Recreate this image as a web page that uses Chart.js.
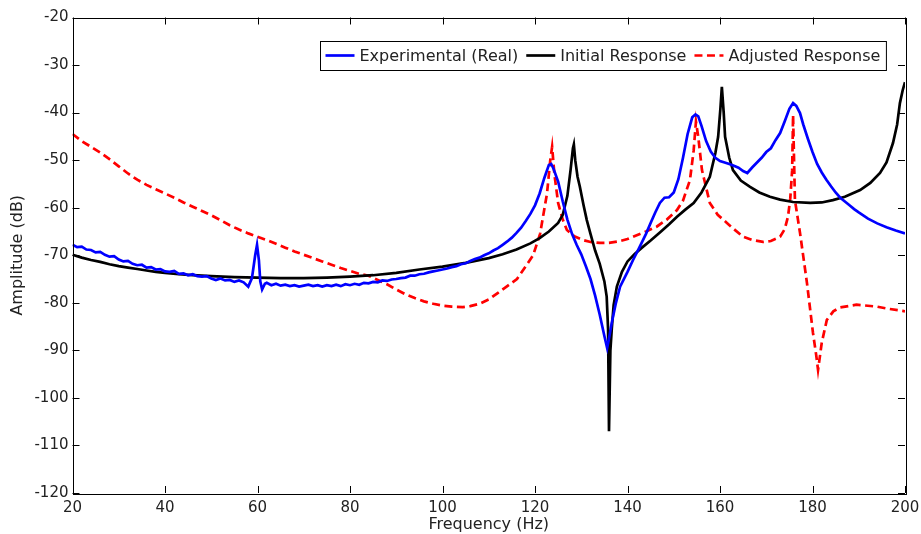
<!DOCTYPE html>
<html>
<head>
<meta charset="utf-8">
<script src="https://cdn.jsdelivr.net/npm/chart.js@4.4.1/dist/chart.umd.min.js"></script>
<style>
  html, body { margin: 0; padding: 0; background: #fff; }
  #wrap { width: 921px; height: 534px; }
</style>
</head>
<body>
<div id="wrap"><canvas id="c" width="921" height="534"></canvas></div>
<script>
// Experimental (Real) - measured FRF, blue
const expFreq = [20,21,22,23,24,25,26,27,28,29,30,31,32,33,34,35,36,37,38,39,40,41,42,43,44,45,46,47,48,49,50,51,52,53,54,55,56,57,58,58.8,59.5,59.9,60.3,60.6,61,61.6,62,63,64,65,66,67,68,69,70,71,72,73,74,75,76,77,78,79,80,81,82,83,84,85,86,87,88,89,90,91,92,93,94,95,96,97,98,99,100,101,102,103,104,105,106,107,108,109,110,111,112,113,114,115,116,117,118,119,120,121,122,123,123.5,124,125,126,127,128,129,130,131,132,133,134,135,135.6,136,136.6,137.5,138.4,140,141.2,142.5,144,145,146,147,148,149,150,151,152,153,154,154.7,155.3,156,157,158,159,160,161,162,163,164,165,165.9,167,168,169,170,171,172,173,174,175,175.8,176.5,177.3,178,179,180,181,182,183,184,185,186,187,188,189,190,192,194,196,198,200];
const expAmp = [-67.8,-68.3,-68.2,-68.8,-68.9,-69.4,-69.3,-69.9,-70.3,-70.2,-70.9,-71.3,-71.2,-71.8,-72.1,-72.0,-72.6,-72.5,-73.0,-72.9,-73.4,-73.5,-73.3,-73.9,-73.8,-74.2,-74.0,-74.4,-74.5,-74.4,-74.9,-75.2,-74.9,-75.3,-75.2,-75.6,-75.3,-75.7,-76.6,-74.8,-70.0,-67.8,-71.0,-75.5,-77.2,-76.0,-75.8,-76.3,-76.0,-76.4,-76.2,-76.5,-76.3,-76.6,-76.4,-76.2,-76.5,-76.3,-76.6,-76.3,-76.5,-76.2,-76.5,-76.1,-76.3,-76.0,-76.2,-75.8,-75.9,-75.6,-75.7,-75.3,-75.4,-75.1,-75.0,-74.8,-74.7,-74.3,-74.3,-74.0,-73.9,-73.6,-73.4,-73.2,-73.0,-72.8,-72.5,-72.3,-71.9,-71.7,-71.2,-70.8,-70.5,-70.0,-69.6,-69.0,-68.5,-67.8,-67.1,-66.3,-65.3,-64.2,-62.8,-61.3,-59.5,-57.0,-53.8,-51.0,-50.8,-51.8,-54.5,-58.7,-62.5,-65.5,-67.8,-69.8,-72.3,-75.0,-78.5,-82.5,-87.0,-89.5,-87.5,-84.2,-80.0,-76.6,-73.5,-71.0,-68.5,-65.5,-63.2,-61.0,-59.0,-57.9,-57.8,-56.8,-54.0,-49.5,-44.5,-41.0,-40.4,-40.8,-42.8,-46.0,-48.2,-49.5,-50.2,-50.5,-50.8,-51.2,-51.6,-52.3,-52.7,-51.5,-50.5,-49.5,-48.3,-47.5,-45.8,-44.3,-41.8,-39.2,-38.0,-38.6,-40.1,-42.5,-45.5,-48.3,-50.8,-52.6,-54.1,-55.5,-56.8,-57.9,-58.7,-59.5,-60.3,-61.0,-62.3,-63.3,-64.1,-64.8,-65.4];

// Initial Response - black
const initFreq = [20,22,24,26,28,30,32,34,36,38,40,43,46,50,55,60,65,70,75,80,85,90,95,100,105,110,113,116,119,121,123,125,126,127,127.7,128.2,128.4,128.7,129.2,129.7,130.5,131.2,132,133,134,135,135.5,135.8,136,136.3,136.6,137,137.7,138.8,140,141.5,143,145,147,149,150.7,152.5,154.3,156,157.8,159,159.6,160.1,160.4,160.8,161.1,162,162.8,164.5,166.5,168.5,170.8,173,175.8,179.5,182,184.4,187,190.3,192.5,194.6,196,197.4,198.3,198.9,199.5,200];
const initAmp = [-69.9,-70.5,-71.0,-71.4,-71.9,-72.3,-72.6,-72.9,-73.2,-73.5,-73.7,-74.0,-74.2,-74.4,-74.6,-74.7,-74.8,-74.8,-74.7,-74.5,-74.2,-73.7,-73.0,-72.4,-71.6,-70.6,-69.8,-68.8,-67.5,-66.4,-65.0,-63.2,-61.5,-57.5,-52.0,-47.5,-46.7,-50.0,-53.5,-55.6,-59.5,-62.6,-65.5,-69.0,-71.8,-75.5,-78.7,-85.5,-107.0,-90.0,-85.5,-80.5,-76.6,-73.5,-71.3,-69.8,-68.5,-66.9,-65.2,-63.5,-61.9,-60.4,-59.0,-56.8,-53.5,-48.5,-45.1,-39.0,-34.6,-40.0,-45.1,-49.5,-52.1,-54.3,-55.6,-56.8,-57.7,-58.3,-58.8,-59.0,-58.9,-58.4,-57.7,-56.3,-54.8,-52.7,-50.5,-46.4,-42.5,-38.0,-35.3,-33.6];

// Adjusted Response - red dashed
const adjFreq = [20,22,24,26,28,30,32,34,36,38,40,42,44,46,48,50,52,54,56,58,60,62,64,66,68,70,72,74,76,78,80,82,84,86,88,90,92,94,96,98,100,102,104.4,106,108,110,112,114,116.1,118,119.6,121.1,122.6,123.3,123.7,124.2,125,126,126.9,128.5,130.4,132,134,136,138,140,142,144,146.3,148.5,150.7,152,153.5,154.3,154.8,155.3,156.1,157.8,159.5,161.5,163,165,167,169.3,171,173,174,174.7,175.2,175.6,175.8,176.2,177.3,178.8,180.1,180.8,181.2,181.5,182,183.1,184.5,185.9,189.5,193.9,196,199.5,200];
const adjAmp = [-44.5,-46.0,-47.2,-48.4,-49.8,-51.3,-52.8,-54.1,-55.2,-56.1,-57.0,-57.9,-58.9,-59.8,-60.7,-61.6,-62.6,-63.7,-64.6,-65.4,-66.1,-66.8,-67.6,-68.4,-69.2,-69.9,-70.6,-71.3,-72.0,-72.7,-73.3,-73.9,-74.3,-75.2,-76.1,-77.2,-78.2,-79.0,-79.7,-80.2,-80.6,-80.8,-80.9,-80.7,-80.2,-79.3,-77.9,-76.5,-75.0,-72.3,-70.0,-65.5,-57.0,-50.0,-47.2,-53.0,-59.0,-62.5,-64.7,-66.0,-66.8,-67.2,-67.4,-67.4,-67.1,-66.6,-65.8,-65.0,-64.0,-62.5,-60.5,-58.5,-54.2,-48.0,-41.9,-45.1,-52.1,-59.0,-61.5,-63.2,-64.5,-66.1,-66.8,-67.2,-67.0,-66.1,-64.5,-61.9,-58.0,-52.1,-40.5,-58.4,-65.3,-75.8,-86.3,-91.0,-94.1,-92.0,-88.4,-83.6,-81.8,-81.0,-80.4,-80.8,-81.2,-81.7,-81.8];

const xTicks = [20, 40, 60, 80, 100, 120, 140, 160, 180, 200];
const yTicks = [-120, -110, -100, -90, -80, -70, -60, -50, -40, -30, -20];

const FONT = "'DejaVu Sans', sans-serif";
const TEXT = "#222";

const toPoints = (xs, ys) => xs.map((x, i) => ({ x: x, y: ys[i] }));

// box round the plot, with MATLAB style inward ticks on all four sides
const boxTicks = {
  id: "boxTicks",
  afterDatasetsDraw(chart) {
    const { ctx, chartArea: a, scales } = chart;
    const len = 7;
    ctx.save();
    ctx.strokeStyle = "#000";
    ctx.lineWidth = 1;
    ctx.beginPath();
    xTicks.forEach((v) => {
      const px = Math.round(scales.x.getPixelForValue(v)) + 0.5;
      ctx.moveTo(px, a.bottom); ctx.lineTo(px, a.bottom - len);
      ctx.moveTo(px, a.top); ctx.lineTo(px, a.top + len);
    });
    yTicks.forEach((v) => {
      const py = Math.round(scales.y.getPixelForValue(v)) + 0.5;
      ctx.moveTo(a.left, py); ctx.lineTo(a.left + len, py);
      ctx.moveTo(a.right, py); ctx.lineTo(a.right - len, py);
    });
    ctx.stroke();
    ctx.strokeRect(Math.round(a.left) + 0.5, Math.round(a.top) + 0.5,
      Math.round(a.right - a.left), Math.round(a.bottom - a.top));
    ctx.restore();
  },
};

// legend box inside the plot, top right
const boxLegend = {
  id: "boxLegend",
  afterDraw(chart) {
    const { ctx, chartArea: a } = chart;
    const sets = chart.data.datasets;
    const sample = 29, gapIn = 5, gapOut = 8, padL = 5, padR = 6;
    ctx.save();
    ctx.font = "16px " + FONT;
    const widths = sets.map((d) => ctx.measureText(d.label).width);
    let w = padL + padR + gapOut * (sets.length - 1);
    widths.forEach((tw) => { w += sample + gapIn + tw; });
    const h = 29;
    const right = a.right - 19;
    const top = a.top + 23.5;
    const left = Math.round(right - w) + 0.5;
    ctx.fillStyle = "#fff";
    ctx.fillRect(left, Math.round(top) + 0.5, w, h);
    ctx.strokeStyle = "#000";
    ctx.lineWidth = 1;
    ctx.strokeRect(left, Math.round(top) + 0.5, w, h);
    const cy = top + h / 2;
    let x = left + padL;
    sets.forEach((d, i) => {
      ctx.beginPath();
      ctx.strokeStyle = d.borderColor;
      ctx.lineWidth = d.borderWidth;
      ctx.setLineDash(d.borderDash || []);
      ctx.moveTo(x, cy); ctx.lineTo(x + sample, cy);
      ctx.stroke();
      ctx.setLineDash([]);
      x += sample + gapIn;
      ctx.fillStyle = TEXT;
      ctx.textBaseline = "middle";
      ctx.fillText(d.label, x, cy + 1);
      x += widths[i] + gapOut;
    });
    ctx.restore();
  },
};

new Chart(document.getElementById("c"), {
  type: "line",
  data: {
    datasets: [
      {
        label: "Experimental (Real)",
        data: toPoints(expFreq, expAmp),
        borderColor: "#0000ff",
        borderWidth: 2.7,
      },
      {
        label: "Initial Response",
        data: toPoints(initFreq, initAmp),
        borderColor: "#000000",
        borderWidth: 2.7,
      },
      {
        label: "Adjusted Response",
        data: toPoints(adjFreq, adjAmp),
        borderColor: "#ff0000",
        borderWidth: 2.7,
        borderDash: [8, 4.5],
      },
    ],
  },
  options: {
    responsive: false,
    animation: false,
    events: [],
    elements: { point: { radius: 0 }, line: { tension: 0, fill: false } },
    layout: { padding: { top: 17.5, right: 16, left: 0, bottom: 0 } },
    plugins: { legend: { display: false }, tooltip: { enabled: false } },
    scales: {
      x: {
        type: "linear",
        min: 20,
        max: 200,
        afterBuildTicks: (s) => { s.ticks = xTicks.map((v) => ({ value: v })); },
        afterFit: (s) => { s.height = 41; s.paddingLeft = 0; s.paddingRight = 0; },
        ticks: { color: TEXT, font: { family: FONT, size: 15 }, padding: 6, maxRotation: 0 },
        grid: { display: false, drawTicks: false },
        border: { display: false },
        title: {
          display: true,
          text: "Frequency (Hz)",
          color: TEXT,
          font: { family: FONT, size: 16 },
          padding: { top: 0, bottom: 0 },
        },
      },
      y: {
        min: -120,
        max: -20,
        afterBuildTicks: (s) => { s.ticks = yTicks.map((v) => ({ value: v })); },
        afterFit: (s) => { s.width = 72.5; s.paddingTop = 0; s.paddingBottom = 0; },
        ticks: { color: TEXT, font: { family: FONT, size: 15 }, padding: 4 },
        grid: { display: false, drawTicks: false },
        border: { display: false },
        title: {
          display: true,
          text: "Amplitude (dB)",
          color: TEXT,
          font: { family: FONT, size: 16 },
          padding: { top: 8, bottom: 0 },
        },
      },
    },
  },
  plugins: [boxTicks, boxLegend],
});
</script>
</body>
</html>
